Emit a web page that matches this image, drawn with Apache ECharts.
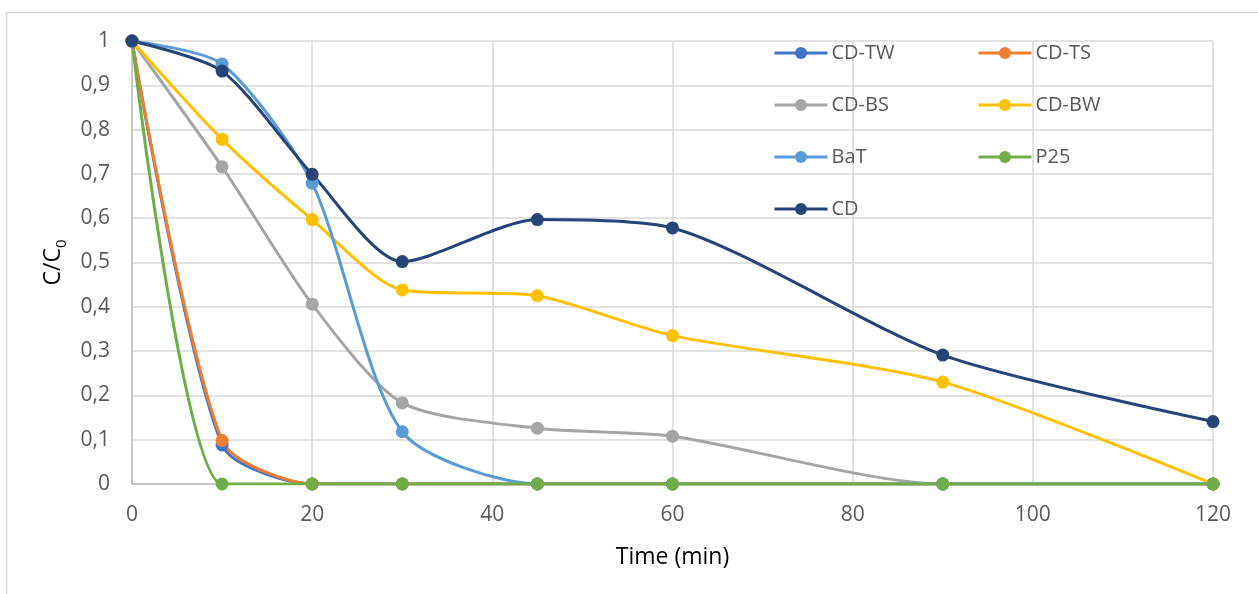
<!DOCTYPE html>
<html>
<head>
<meta charset="utf-8">
<script src="https://cdn.jsdelivr.net/npm/echarts@6/dist/echarts.min.js"></script>
<style>
  html, body { margin: 0; padding: 0; background: #ffffff; }
  #chart { width: 1258px; height: 594px; }
</style>
</head>
<body>
<div id="chart"></div>
<script>
// Sampling times (min)
const times = [0, 10, 20, 30, 45, 60, 90, 120];

// Normalised concentration C/C0 for each photocatalyst
const cdTW = [1, 0.088, 0, 0, 0, 0, 0, 0];
const cdTS = [1, 0.098, 0, 0, 0, 0, 0, 0];
const cdBS = [1, 0.716, 0.406, 0.183, 0.126, 0.108, 0, 0];
const cdBW = [1, 0.778, 0.597, 0.438, 0.425, 0.335, 0.23, 0];
const baT  = [1, 0.948, 0.679, 0.118, 0, 0, 0, 0];
const p25  = [1, 0, 0, 0, 0, 0, 0, 0];
const cd   = [1, 0.932, 0.699, 0.502, 0.597, 0.578, 0.291, 0.141];

const seriesNames  = ['CD-TW', 'CD-TS', 'CD-BS', 'CD-BW', 'BaT', 'P25', 'CD'];
const seriesValues = [cdTW, cdTS, cdBS, cdBW, baT, p25, cd];
const seriesColors = ['#4472c4', '#ed7d31', '#a5a5a5', '#ffc000', '#5b9bd5', '#70ad47', '#264478'];

const FONT = '"Open Sans", "Liberation Sans", sans-serif';

const chart = echarts.init(document.getElementById('chart'), null, { renderer: 'canvas' });

const series = seriesNames.map((name, i) => ({
  name,
  type: 'line',
  data: times.map((t, j) => [t, seriesValues[i][j]]),
  smooth: 0.25,
  symbol: 'circle',
  symbolSize: 13,
  showSymbol: true,
  color: seriesColors[i],
  lineStyle: { width: 3, color: seriesColors[i] },
  itemStyle: { color: seriesColors[i] },
  emphasis: { disabled: true },
  animation: false
}));

const legendCommon = {
  orient: 'vertical',
  padding: 0,
  itemWidth: 53,
  itemHeight: 15,
  itemGap: 32,
  lineStyle: { width: 3 },
  textStyle: { fontFamily: FONT, fontSize: 20, lineHeight: 15, color: '#595959', padding: [0, 0, 0, -1] },
  selectedMode: false
};

chart.setOption({
  backgroundColor: '#ffffff',
  animation: false,
  graphic: [{
    type: 'rect',
    silent: true,
    shape: { x: 6.5, y: 12.5, width: 1400, height: 800 },
    style: { fill: 'none', stroke: '#d9d9d9', lineWidth: 1.5 },
    z: -10
  }],
  grid: { left: 132, right: 45, top: 41, bottom: 110, containLabel: false },
  legend: [
    Object.assign({}, legendCommon, { left: 773, top: 43, data: ['CD-TW', 'CD-BS', 'BaT', 'CD'] }),
    Object.assign({}, legendCommon, { left: 977, top: 43, data: ['CD-TS', 'CD-BW', 'P25'] })
  ],
  xAxis: {
    type: 'value',
    min: 0,
    max: 120,
    interval: 20,
    name: 'Time (min)',
    nameLocation: 'middle',
    nameGap: 62,
    nameTextStyle: { fontFamily: FONT, fontSize: 23, color: '#000000' },
    axisLine: { show: true, onZero: false, lineStyle: { color: '#bfbfbf', width: 1.5 } },
    axisTick: { show: false },
    axisLabel: { fontFamily: FONT, fontSize: 21, color: '#595959', margin: 21 },
    splitLine: { show: true, lineStyle: { color: '#d9d9d9', width: 1.5 } }
  },
  yAxis: {
    type: 'value',
    min: 0,
    max: 1,
    interval: 0.1,
    name: '{a|C/C}{b|0}',
    nameLocation: 'middle',
    nameRotate: 90,
    nameGap: 64,
    nameTextStyle: {
      fontFamily: FONT,
      color: '#000000',
      rich: {
        a: { fontFamily: FONT, fontSize: 23, color: '#000000', lineHeight: 30, verticalAlign: 'bottom' },
        b: { fontFamily: FONT, fontSize: 15, color: '#000000', lineHeight: 30, verticalAlign: 'bottom', padding: [0, 0, -5, 0] }
      }
    },
    axisLine: { show: true, lineStyle: { color: '#bfbfbf', width: 1.5 } },
    axisTick: { show: false },
    axisLabel: {
      fontFamily: FONT,
      fontSize: 21,
      color: '#595959',
      margin: 22,
      formatter: v => String(+v.toFixed(1)).replace('.', ',')
    },
    splitLine: { show: true, lineStyle: { color: '#d9d9d9', width: 1.5 } }
  },
  series
});
</script>
</body>
</html>
